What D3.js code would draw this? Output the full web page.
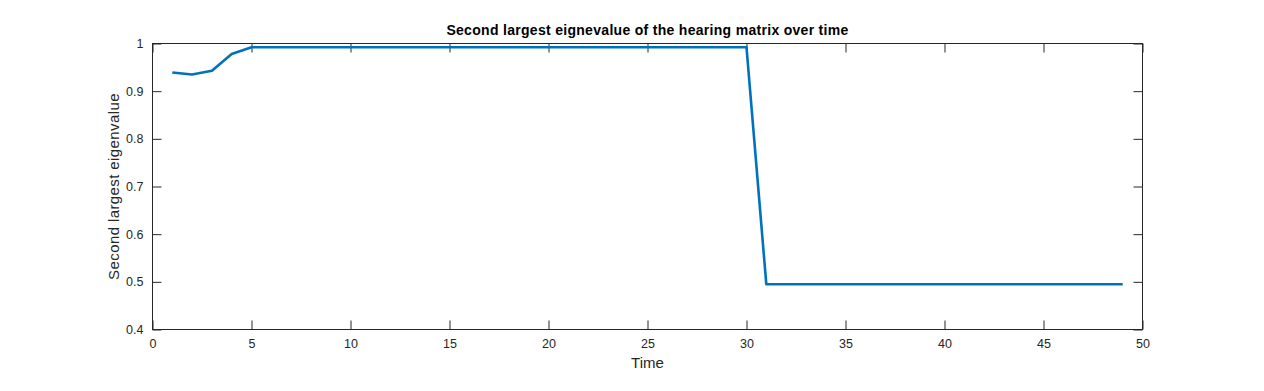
<!doctype html>
<head>
  <script src="https://cdnjs.cloudflare.com/ajax/libs/d3/7.8.5/d3.min.js"></script>
  <style>
    body { margin: 0; background: #fff; }
    svg { display: block; font-family: "Liberation Sans", Arial, sans-serif; }
    .tick text { fill: #262626; font-size: 12.5px; }
  </style>
</head>
<body>
  <svg width="1264" height="391"></svg>
  <script type="text/javascript">
    // time steps and the second largest eigenvalue at each step
    var times = d3.range(1, 50)
    var eigen = [0.939, 0.935, 0.943, 0.978, 0.992, 0.992, 0.992, 0.992, 0.992, 0.992,
      0.992, 0.992, 0.992, 0.992, 0.992, 0.992, 0.992, 0.992, 0.992, 0.992,
      0.992, 0.992, 0.992, 0.992, 0.992, 0.992, 0.992, 0.992, 0.992, 0.992,
      0.495, 0.495, 0.495, 0.495, 0.495, 0.495, 0.495, 0.495, 0.495, 0.495,
      0.495, 0.495, 0.495, 0.495, 0.495, 0.495, 0.495, 0.495, 0.495]
    var xTicks = [0, 5, 10, 15, 20, 25, 30, 35, 40, 45, 50]
    var yTicks = [0.4, 0.5, 0.6, 0.7, 0.8, 0.9, 1]

    var plotL = 152.5, plotR = 1142.5, plotT = 43.5, plotB = 329.5
    var svg = d3.select("svg")
    var x = d3.scaleLinear().domain([0, 50]).range([plotL, plotR])
    var y = d3.scaleLinear().domain([0.4, 1]).range([plotB, plotT])

    function style(g) {
      g.select(".domain").remove()
      g.selectAll(".tick line").attr("stroke", "#262626")
    }

    svg.append("g").attr("transform", "translate(0," + plotB + ")")
      .call(d3.axisBottom(x).tickValues(xTicks).tickSizeInner(-9).tickPadding(10).tickFormat(d3.format("d")))
      .call(style)
    svg.append("g").attr("transform", "translate(0," + plotT + ")")
      .call(d3.axisTop(x).tickValues(xTicks).tickSizeInner(-9).tickFormat(""))
      .call(style)
    svg.append("g").attr("transform", "translate(" + plotL + ",0)")
      .call(d3.axisLeft(y).tickValues(yTicks).tickSizeInner(-9).tickPadding(9).tickFormat(d => d === 1 ? "1" : d3.format(".1f")(d)))
      .call(style)
    svg.append("g").attr("transform", "translate(" + plotR + ",0)")
      .call(d3.axisRight(y).tickValues(yTicks).tickSizeInner(-9).tickFormat(""))
      .call(style)

    svg.append("rect").attr("x", plotL).attr("y", plotT)
      .attr("width", plotR - plotL).attr("height", plotB - plotT)
      .attr("fill", "none").attr("stroke", "#262626").attr("stroke-width", 1)

    var line = d3.line().x((d, i) => x(times[i])).y(d => y(d))
    svg.append("path").datum(eigen)
      .attr("d", line)
      .attr("fill", "none")
      .attr("stroke", "#0072BD")
      .attr("stroke-width", 2.6)
      .attr("stroke-linejoin", "round")

    svg.append("text").attr("x", (plotL + plotR) / 2).attr("y", 35)
      .attr("text-anchor", "middle").attr("font-size", "14px").attr("font-weight", "bold")
      .attr("letter-spacing", "0.3px")
      .attr("fill", "#000").text("Second largest eignevalue of the hearing matrix over time")
    svg.append("text").attr("x", (plotL + plotR) / 2).attr("y", 368)
      .attr("text-anchor", "middle").attr("font-size", "15px").attr("fill", "#262626").text("Time")
    svg.append("text").attr("transform", "translate(119," + (plotT + plotB) / 2 + ") rotate(-90)")
      .attr("text-anchor", "middle").attr("font-size", "15px").attr("letter-spacing", "0.4px")
      .attr("fill", "#262626").text("Second largest eigenvalue")
  </script>
</body>
</html>
